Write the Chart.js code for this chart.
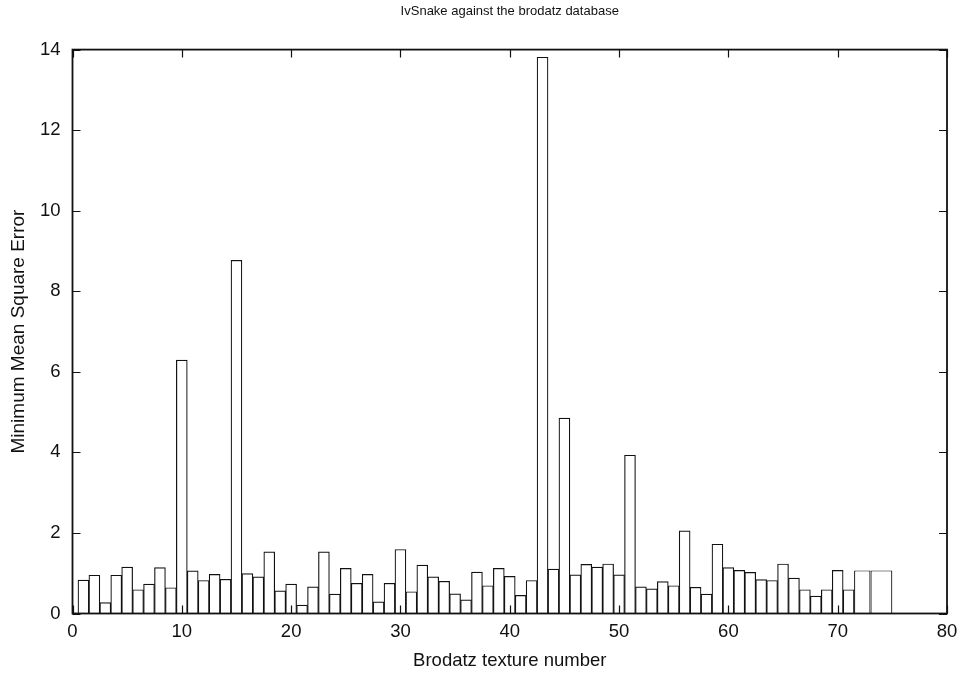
<!DOCTYPE html>
<html>
<head>
<meta charset="utf-8">
<title>lvSnake against the brodatz database</title>
<script src="https://cdn.jsdelivr.net/npm/chart.js@4.4.1/dist/chart.umd.min.js"></script>
<style>
  html, body { margin: 0; padding: 0; background: #fff; }
  #wrap { width: 961px; height: 675px; }
</style>
</head>
<body>
<div id="wrap"><canvas id="chart"></canvas></div>
<script>
// texture numbers (no 73 in the data)
const textures = [
  1, 2, 3, 4, 5, 6, 7, 8, 9, 10,
  11, 12, 13, 14, 15, 16, 17, 18, 19, 20,
  21, 22, 23, 24, 25, 26, 27, 28, 29, 30,
  31, 32, 33, 34, 35, 36, 37, 38, 39, 40,
  41, 42, 43, 44, 45, 46, 47, 48, 49, 50,
  51, 52, 53, 54, 55, 56, 57, 58, 59, 60,
  61, 62, 63, 64, 65, 66, 67, 68, 69, 70,
  71, 72, 74
];
const mse = [
  0.83, 0.95, 0.27, 0.95, 1.15, 0.59, 0.73, 1.14, 0.64, 6.29,
  1.06, 0.82, 0.97, 0.85, 8.77, 0.99, 0.91, 1.53, 0.56, 0.73,
  0.21, 0.66, 1.53, 0.48, 1.12, 0.75, 0.97, 0.29, 0.75, 1.59,
  0.54, 1.20, 0.91, 0.80, 0.49, 0.34, 1.03, 0.69, 1.12, 0.92,
  0.45, 0.82, 13.81, 1.10, 4.85, 0.96, 1.22, 1.15, 1.23, 0.96,
  3.93, 0.66, 0.61, 0.79, 0.69, 2.05, 0.65, 0.48, 1.72, 1.14,
  1.07, 1.02, 0.84, 0.82, 1.23, 0.88, 0.59, 0.43, 0.59, 1.07,
  0.59, 1.07, 1.07
];
const xTicks = [0, 10, 20, 30, 40, 50, 60, 70, 80];
const yTicks = [0, 2, 4, 6, 8, 10, 12, 14];

const FONT = "'Liberation Sans', Arial, Helvetica, sans-serif";
const TICK = 8;

// gnuplot style boxes: each box reaches halfway to its neighbours
const boxes = textures.map((x, i) => {
  const prev = textures[i - 1], next = textures[i + 1];
  const left = prev === undefined ? x - (next - x) / 2 : (prev + x) / 2;
  const right = next === undefined ? x + (x - prev) / 2 : (x + next) / 2;
  return { x: (left + right) / 2, y: mse[i], w: right - left };
});

let minGap = Infinity;
const centers = boxes.map(b => b.x).sort((a, b) => a - b);
for (let i = 1; i < centers.length; i++) minGap = Math.min(minGap, centers[i] - centers[i - 1]);

// one dataset per box width so the library can size them
const widths = [...new Set(boxes.map(b => b.w))];
const datasets = widths.map(w => ({
  data: boxes.filter(b => b.w === w).map(b => ({ x: b.x, y: b.y })),
  backgroundColor: '#ffffff',
  borderColor: '#111111',
  borderWidth: 1.2,
  categoryPercentage: 1,
  barPercentage: w / minGap,
  grouped: false
}));

// closed frame with inward, mirrored ticks
const frame = {
  id: 'frame',
  afterDatasetsDraw(chart) {
    const { ctx, chartArea: a, scales: { x, y } } = chart;
    ctx.save();
    ctx.strokeStyle = '#111';
    ctx.lineWidth = 1.2;
    ctx.beginPath();
    xTicks.forEach(v => {
      const px = Math.round(x.getPixelForValue(v)) + 0.5;
      ctx.moveTo(px, a.bottom); ctx.lineTo(px, a.bottom - TICK);
      ctx.moveTo(px, a.top); ctx.lineTo(px, a.top + TICK);
    });
    yTicks.forEach(v => {
      const py = Math.round(y.getPixelForValue(v)) + 0.5;
      ctx.moveTo(a.left, py); ctx.lineTo(a.left + TICK, py);
      ctx.moveTo(a.right, py); ctx.lineTo(a.right - TICK, py);
    });
    ctx.stroke();
    ctx.lineWidth = 1.8;
    ctx.strokeRect(a.left, a.top, a.right - a.left, a.bottom - a.top);
    ctx.restore();
  }
};

new Chart(document.getElementById('chart'), {
  type: 'bar',
  data: { datasets },
  options: {
    responsive: true,
    maintainAspectRatio: false,
    animation: false,
    layout: { padding: { top: 0, right: 14, bottom: 0, left: 0 } },
    plugins: {
      legend: { display: false },
      tooltip: { enabled: false },
      title: {
        display: true,
        fullSize: false,
        text: 'IvSnake against the brodatz database',
        color: '#111',
        font: { family: FONT, size: 13, weight: 'normal' },
        padding: { top: 4, bottom: 30 }
      }
    },
    scales: {
      x: {
        type: 'linear',
        min: 0,
        max: 80,
        offset: false,
        grid: { display: false, offset: false, drawTicks: false },
        border: { display: false },
        afterBuildTicks: s => { s.ticks = xTicks.map(v => ({ value: v })); },
        afterFit: s => { s.height = 61.5; s.paddingLeft = 0; s.paddingRight = 0; },
        ticks: {
          color: '#111',
          padding: 7,
          maxRotation: 0,
          font: { family: FONT, size: 18.5 }
        },
        title: {
          display: true,
          text: 'Brodatz texture number',
          color: '#111',
          font: { family: FONT, size: 18.5 },
          padding: { top: 0, bottom: 3 }
        }
      },
      y: {
        min: 0,
        max: 14,
        grid: { display: false, drawTicks: false },
        border: { display: false },
        afterBuildTicks: s => { s.ticks = yTicks.map(v => ({ value: v })); },
        afterFit: s => { s.width = 72.5; },
        ticks: {
          color: '#111',
          padding: 12,
          font: { family: FONT, size: 18.5 }
        },
        title: {
          display: true,
          text: 'Minimum Mean Square Error',
          color: '#111',
          font: { family: FONT, size: 19 },
          padding: { top: 7, bottom: 0 }
        }
      }
    }
  },
  plugins: [frame]
});
</script>
</body>
</html>
